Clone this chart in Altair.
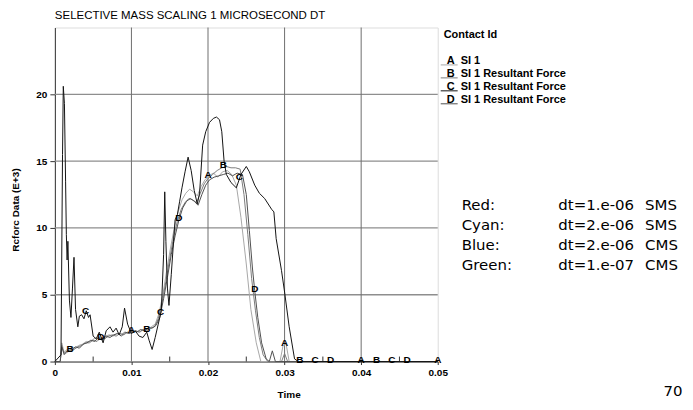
import altair as alt
import pandas as pd
import numpy as np

# ---------------- data ----------------
chart_title = "SELECTIVE MASS SCALING 1 MICROSECOND DT"
x_title = "Time"
y_title = "Rcforc Data (E+3)"
legend_title = "Contact Id"
legend_ids = ["A", "B", "C", "D"]
legend_names = ["SI 1", "SI 1 Resultant Force", "SI 1 Resultant Force", "SI 1 Resultant Force"]
line_colors = ["#a8a8a8", "#7c7c7c", "#141414", "#505050"]

note_names = ["Red:", "Cyan:", "Blue:", "Green:"]
note_dt = ["dt=1.e-06", "dt=2.e-06", "dt=2.e-06", "dt=1.e-07"]
note_ms = ["SMS", "SMS", "CMS", "CMS"]
page_number = "70"

x_ticks = [0, 0.01, 0.02, 0.03, 0.04, 0.05]
x_minor = [0.005, 0.015, 0.025, 0.035, 0.045]
y_ticks = [0, 2.5, 5, 7.5, 10, 12.5, 15, 17.5, 20, 22.5]
grid_x = [0.01, 0.02, 0.03, 0.04]
grid_y = [5, 10, 15, 20]

a_x = [0, 0.0007, 0.0009, 0.0012, 0.0016,
       0.0021, 0.0026, 0.0031, 0.0036, 0.0041, 0.0046, 0.0051, 0.0056, 0.0061, 0.0066,
       0.0071, 0.0076, 0.0081, 0.0086, 0.0091, 0.0096, 0.0101, 0.0106, 0.0111, 0.0116,
       0.0121, 0.0126, 0.0131, 0.0136, 0.0141, 0.0146, 0.0151, 0.0156, 0.0161, 0.0166,
       0.0171, 0.0176, 0.0181, 0.0186, 0.0191, 0.0196, 0.0201,
       0.0207, 0.0213, 0.0219, 0.0225, 0.0231, 0.0237, 0.0243, 0.0250, 0.0256, 0.0263, 0.0269,
       0.0294, 0.0298, 0.0302, 0.0306, 0.0500]
a_y = [0, 0, 1.4, 0.7, 0.9,
       1.0, 1.0, 1.2, 1.3, 1.5, 1.5, 1.7, 1.8, 1.7, 1.9,
       2.0, 1.9, 2.1, 2.0, 2.2, 2.1, 2.2, 2.3, 2.2, 2.4,
       2.4, 2.6, 2.8, 3.6, 5.0, 6.8, 8.5, 10.0, 11.2, 12.1,
       12.6, 12.9, 12.7, 12.4, 13.1, 13.6, 13.9,
       14.1, 13.8, 14.2, 14.3, 14.0, 13.2, 10.8, 7.3, 3.9, 1.4, 0,
       0, 1.2, 1.3, 0, 0]

b_x = [0, 0.0007, 0.0009, 0.0012, 0.0016,
       0.0020, 0.0025, 0.0030, 0.0035, 0.0040, 0.0045, 0.0050, 0.0055, 0.0060, 0.0065,
       0.0070, 0.0075, 0.0080, 0.0085, 0.0090, 0.0095, 0.0100, 0.0105, 0.0110, 0.0115,
       0.0120, 0.0125, 0.0130, 0.0135, 0.0140, 0.0145, 0.0150, 0.0155, 0.0160, 0.0165,
       0.0170, 0.0175, 0.0180, 0.0185, 0.0190, 0.0195, 0.0200,
       0.0206, 0.0212, 0.0218, 0.0224, 0.0230, 0.0236, 0.0242, 0.0247, 0.0252, 0.0257,
       0.0262, 0.0267, 0.0272, 0.0278, 0.0296, 0.0300, 0.0304, 0.0500]
b_y = [0, 0, 1.2, 0.5, 0.7,
       0.8, 0.9, 1.1, 1.2, 1.4, 1.4, 1.6, 1.5, 1.8, 1.7,
       1.9, 2.0, 1.9, 2.1, 2.0, 2.2, 2.1, 2.3, 2.2, 2.4,
       2.3, 2.5, 2.6, 3.2, 4.4, 6.0, 7.7, 9.3, 10.5, 11.4,
       11.9, 12.2, 12.1, 11.9, 12.6, 13.3, 13.7,
       14.0, 14.3, 14.5, 14.6, 14.5, 14.5, 14.4, 12.5, 9.5, 6.2,
       3.8, 1.8, 0.5, 0, 0, 0.6, 0, 0]

c_x = [0, 0.0008, 0.0010, 0.0011, 0.00125, 0.0014, 0.0015, 0.0016, 0.0017, 0.0019,
       0.0021, 0.0023, 0.0025, 0.0027, 0.0030, 0.0032, 0.0035, 0.0038, 0.0041, 0.0044,
       0.0046, 0.0050, 0.0054, 0.0058, 0.0063, 0.0067, 0.0072, 0.0076, 0.0080, 0.0084,
       0.0088, 0.0091, 0.0095, 0.0100, 0.0105, 0.0110, 0.0115, 0.0120, 0.0123, 0.0127,
       0.0131, 0.0135, 0.0139, 0.0142, 0.01435, 0.0145, 0.0147, 0.0149, 0.0152, 0.0155,
       0.0157, 0.0160, 0.0163, 0.0166, 0.0170, 0.0174, 0.0178, 0.0182, 0.0186, 0.0189,
       0.0193, 0.0197, 0.0202, 0.0207, 0.0211, 0.0215, 0.0218, 0.0221, 0.0224, 0.0230,
       0.0237, 0.0243, 0.0250, 0.0254, 0.0261, 0.0267, 0.0274, 0.0283, 0.0286, 0.0289,
       0.0296, 0.0300, 0.0306, 0.0313, 0.0318, 0.0500]
c_y = [0, 0.5, 15.5, 20.6, 19.3, 13.5, 9.5, 7.6, 9.0, 4.6,
       3.3, 5.5, 7.8, 3.9, 2.6, 3.4, 3.5, 3.2, 3.8, 3.3,
       3.5, 1.9, 1.7, 2.2, 1.4, 2.3, 2.6, 2.2, 2.5, 2.0,
       2.6, 4.0, 2.8, 2.1, 2.3, 1.9, 1.8, 2.2, 1.6, 0.9,
       1.8, 2.8, 3.8, 8.0, 12.7, 9.0, 5.5, 4.2, 6.5, 9.0,
       10.6, 11.0, 12.0, 13.0, 14.2, 15.3, 14.3, 12.8, 11.8, 12.6,
       16.2, 17.2, 17.9, 18.2, 18.3, 18.1, 17.2, 15.0, 14.0, 13.4,
       13.0, 14.0, 14.6, 14.2, 13.2, 12.6, 12.2, 11.4, 11.2, 9.2,
       6.8, 5.2, 2.6, 0.2, 0, 0]

d_x = [0, 0.0007, 0.0009, 0.0012, 0.0016,
       0.0022, 0.0027, 0.0032, 0.0037, 0.0042, 0.0047, 0.0052, 0.0057, 0.0062, 0.0067,
       0.0072, 0.0077, 0.0082, 0.0087, 0.0092, 0.0097, 0.0102, 0.0107, 0.0112, 0.0117,
       0.0122, 0.0127, 0.0132, 0.0137, 0.0142, 0.0147, 0.0152, 0.0157, 0.0162, 0.0167,
       0.0172, 0.0177, 0.0182, 0.0187, 0.0192, 0.0197, 0.0202,
       0.0208, 0.0214, 0.0220, 0.0226, 0.0232, 0.0238, 0.0245, 0.0250, 0.0254, 0.0258,
       0.0261, 0.0265, 0.0270, 0.0276, 0.0280, 0.0284, 0.0288, 0.0500]
d_y = [0, 0, 1.1, 0.6, 0.8,
       0.9, 1.1, 1.0, 1.3, 1.4, 1.6, 1.5, 1.8, 1.6, 1.9,
       1.8, 2.0, 2.1, 1.9, 2.2, 2.1, 2.3, 2.2, 2.4, 2.3,
       2.5, 2.5, 2.7, 3.3, 4.7, 6.3, 8.0, 9.4, 10.6, 11.5,
       12.0, 12.2, 12.0, 11.7, 12.5, 13.2, 13.6,
       13.8, 13.9, 14.0, 14.1, 13.9, 14.1, 14.0, 12.5, 9.8, 7.0,
       5.3, 3.3, 1.4, 0.2, 0, 0.8, 0, 0]

label_x = {
    "A": [0.01, 0.02, 0.03, 0.04, 0.05],
    "B": [0.002, 0.012, 0.022, 0.032, 0.042],
    "C": [0.004, 0.0138, 0.0241, 0.034, 0.044],
    "D": [0.006, 0.0162, 0.0261, 0.036, 0.046],
}

# ---------------- tables ----------------
series = {"A": (a_x, a_y), "B": (b_x, b_y), "C": (c_x, c_y), "D": (d_x, d_y)}
lines_df = pd.concat(
    [pd.DataFrame({"t": xs, "v": ys, "sid": k}) for k, (xs, ys) in series.items()],
    ignore_index=True,
)
lab_rows = []
for k, xs in label_x.items():
    sx, sy = series[k]
    for xv in xs:
        lab_rows.append({"t": xv, "v": float(np.interp(xv, sx, sy)), "sid": k})
labels_df = pd.DataFrame(lab_rows)

W, H = 384, 335
FONT = "Liberation Sans"
xs_ = alt.Scale(domain=[0, 0.05], nice=False, zero=False)
ys_ = alt.Scale(domain=[0, 25], nice=False, zero=False)
cscale = alt.Scale(domain=legend_ids, range=line_colors)

gridx = alt.Chart(pd.DataFrame({"t": grid_x})).mark_rule(color="#6e6e6e", strokeWidth=1).encode(
    x=alt.X("t:Q", scale=xs_))
gridy = alt.Chart(pd.DataFrame({"v": grid_y})).mark_rule(color="#8e8e8e", strokeWidth=1.3).encode(
    y=alt.Y("v:Q", scale=ys_))
minor = alt.Chart(pd.DataFrame({"t": x_minor})).mark_rule(color="#333", strokeWidth=1).encode(
    x=alt.X("t:Q", scale=xs_), y=alt.value(H), y2=alt.value(H - 5))

gray = alt.Chart(lines_df).transform_filter("datum.sid != 'C'").mark_line(
    strokeWidth=1, interpolate="linear").encode(
    x=alt.X("t:Q", scale=xs_, title="",
            axis=alt.Axis(values=x_ticks, grid=False, labelFlush=False,
                          labelExpr="datum.value == 0 ? '0' : format(datum.value, '.2f')",
                          labelFont=FONT, labelFontSize=10, labelFontWeight="bold",
                          labelColor="#000", tickSize=3, labelPadding=3,
                          tickColor="#333", domainColor="#333")),
    y=alt.Y("v:Q", scale=ys_, title="",
            axis=alt.Axis(values=y_ticks, grid=False,
                          labelExpr="datum.value % 5 == 0 ? datum.label : ''",
                          labelFont=FONT, labelFontSize=10, labelFontWeight="bold",
                          labelColor="#000", tickSize=5, labelPadding=3,
                          tickColor="#333", domainColor="#333")),
    color=alt.Color("sid:N", scale=cscale, legend=None),
    detail="sid:N",
)
black = alt.Chart(lines_df).transform_filter("datum.sid == 'C'").mark_line(
    strokeWidth=1, color=line_colors[2]).encode(
    x=alt.X("t:Q", scale=xs_), y=alt.Y("v:Q", scale=ys_))

marks = alt.Chart(labels_df).mark_text(
    font=FONT, fontSize=10, fontWeight="bold", color="#000", baseline="middle", dy=-2).encode(
    x=alt.X("t:Q", scale=xs_), y=alt.Y("v:Q", scale=ys_), text="sid:N")

title_mark = alt.Chart(pd.DataFrame({"s": [chart_title]})).mark_text(
    font=FONT, fontSize=11.5, align="left", baseline="middle", color="#000").encode(
    x=alt.value(0), y=alt.value(-12), text="s:N")
ytitle = alt.Chart(pd.DataFrame({"s": [y_title]})).mark_text(
    font=FONT, fontSize=10, fontWeight="bold", angle=270, align="center",
    baseline="middle", color="#000").encode(x=alt.value(-39), y=alt.value(183), text="s:N")
xtitle = alt.Chart(pd.DataFrame({"s": [x_title]})).mark_text(
    font=FONT, fontSize=10, fontWeight="bold", align="center", baseline="middle",
    color="#000").encode(x=alt.value(235), y=alt.value(369), text="s:N")

leg_title = alt.Chart(pd.DataFrame({"s": [legend_title]})).mark_text(
    font=FONT, fontSize=11, fontWeight="bold", align="left", baseline="middle",
    color="#000").encode(x=alt.value(390), y=alt.value(8), text="s:N")
leg_df = pd.DataFrame({"id": legend_ids, "name": legend_names, "row": range(4), "col": line_colors})
leg_base = alt.Chart(leg_df).transform_calculate(ly="34 + 13*datum.row", uy="37.5 + 13*datum.row")
leg_rule = leg_base.mark_rule(strokeWidth=1).encode(
    x=alt.value(387), x2=alt.value(404), y=alt.Y("uy:Q", scale=None),
    color=alt.Color("col:N", scale=None))
leg_id = leg_base.mark_text(font=FONT, fontSize=11, fontWeight="bold", align="center",
                            baseline="middle", color="#000").encode(
    x=alt.value(397), y=alt.Y("ly:Q", scale=None), text="id:N")
leg_name = leg_base.mark_text(font=FONT, fontSize=11, fontWeight="bold", align="left",
                              baseline="middle", color="#000").encode(
    x=alt.value(407), y=alt.Y("ly:Q", scale=None), text="name:N")

note_df = pd.DataFrame({"n": note_names, "dt": note_dt, "ms": note_ms, "row": range(4)})
note_base = alt.Chart(note_df).transform_calculate(py="178 + 20*datum.row")
NF = "DejaVu Sans"
note1 = note_base.mark_text(font=NF, fontSize=15, align="left", baseline="middle", color="#000").encode(
    x=alt.value(408), y=alt.Y("py:Q", scale=None), text="n:N")
note2 = note_base.mark_text(font=NF, fontSize=15, align="left", baseline="middle", color="#000").encode(
    x=alt.value(505), y=alt.Y("py:Q", scale=None), text="dt:N")
note3 = note_base.mark_text(font=NF, fontSize=15, align="left", baseline="middle", color="#000").encode(
    x=alt.value(592), y=alt.Y("py:Q", scale=None), text="ms:N")
pnum = alt.Chart(pd.DataFrame({"s": [page_number]})).mark_text(
    font=NF, fontSize=15, align="center", baseline="middle", color="#000").encode(
    x=alt.value(620), y=alt.value(365), text="s:N")

chart = alt.layer(
    gridy, gridx, minor, gray, black, marks, title_mark, ytitle, xtitle,
    leg_title, leg_rule, leg_id, leg_name, note1, note2, note3, pnum,
).properties(
    width=W, height=H,
    padding={"left": 47, "top": 19, "right": 248, "bottom": 40},
    autosize=alt.AutoSizeParams(type="none"),
).configure_view(stroke="#333", strokeWidth=1).configure(background="white")

chart.save("out.html", embed_options={"renderer": "svg", "actions": False})
